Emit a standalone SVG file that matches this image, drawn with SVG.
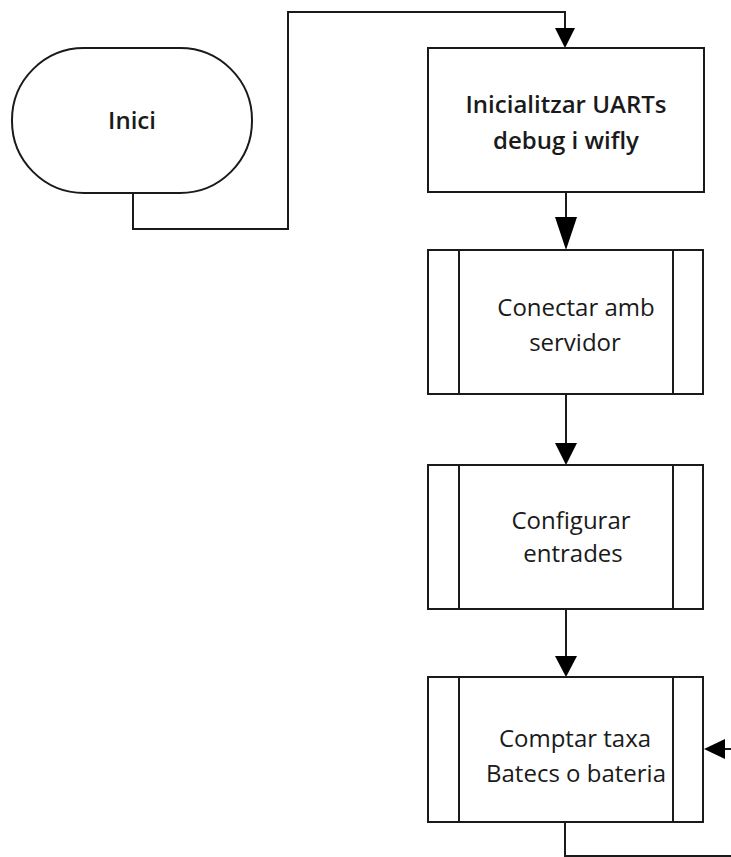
<svg xmlns="http://www.w3.org/2000/svg" width="731" height="857" viewBox="0 0 731 857">
<style>
.shape{fill:#fff;stroke:#1a1a1a;stroke-width:2}
.line{fill:none;stroke:#1a1a1a;stroke-width:2}
.head{fill:#000;stroke:none}
text{font-family:"Open Sans","Liberation Sans",sans-serif;font-size:24px;fill:#1a1a1a;text-anchor:middle}
.b{font-weight:600}
</style>
<rect width="731" height="857" fill="#fff"/>
<g id="connectors">
<polyline class="line" points="133,193 133,229 288,229 288,12 565,12 565,30"/>
<polygon class="head" points="555,28 575,28 565,48"/>
<line class="line" x1="566" y1="192" x2="566" y2="220"/>
<polygon class="head" points="555,217 577,217 566,250"/>
<line class="line" x1="566" y1="394" x2="566" y2="445"/>
<polygon class="head" points="555,443 577,443 566,465"/>
<line class="line" x1="566" y1="609" x2="566" y2="658"/>
<polygon class="head" points="555,656 577,656 566,677"/>
<polyline class="line" points="565,822 565,856 731,856"/>
<line class="line" x1="722" y1="749" x2="731" y2="749"/>
<polygon class="head" points="725,739 725,759 704,749"/>
</g>
<g id="inici">
<rect class="shape" x="12" y="48" width="240" height="145" rx="72" ry="72"/>
<text class="b" x="132" y="129">Inici</text>
</g>
<g id="init-uarts">
<rect class="shape" x="428" y="48" width="276" height="144"/>
<text class="b" x="566" y="113">Inicialitzar UARTs</text>
<text class="b" x="566" y="149">debug i wifly</text>
</g>
<g id="conectar">
<rect class="shape" x="428" y="250" width="275" height="144"/>
<line class="line" x1="459" y1="250" x2="459" y2="394"/>
<line class="line" x1="673" y1="250" x2="673" y2="394"/>
<text x="576" y="316">Conectar amb</text>
<text x="575" y="351">servidor</text>
</g>
<g id="configurar">
<rect class="shape" x="428" y="465" width="275" height="144"/>
<line class="line" x1="459" y1="465" x2="459" y2="609"/>
<line class="line" x1="673" y1="465" x2="673" y2="609"/>
<text x="571" y="529">Configurar</text>
<text x="573" y="562">entrades</text>
</g>
<g id="comptar">
<rect class="shape" x="428" y="677" width="275" height="145"/>
<line class="line" x1="459" y1="677" x2="459" y2="822"/>
<line class="line" x1="673" y1="677" x2="673" y2="822"/>
<text x="575" y="747">Comptar taxa</text>
<text x="576" y="782">Batecs o bateria</text>
</g>
</svg>
